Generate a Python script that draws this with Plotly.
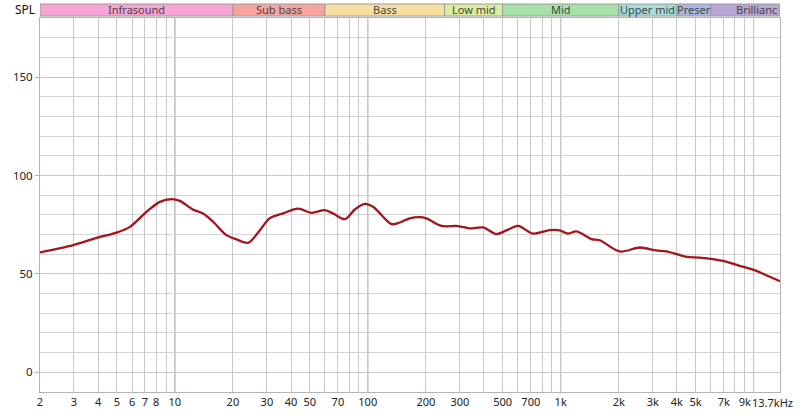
import numpy as np
import plotly.graph_objects as go

# ---- data ----
freq_hz = [2.0, 2.97, 3.93, 4.99, 5.85, 7.13, 8.36, 9.6, 10.6, 12.4, 14.0, 15.8, 18.5,
           20.9, 24.0, 27.6, 31.0, 36.4, 43.5, 51.1, 59.8, 66.1, 76.0, 85.7, 96.4,
           106.5, 132.6, 146.6, 165, 186, 201, 241, 294, 337, 396, 464, 523, 601,
           718, 877, 988, 1091, 1206, 1442, 1593, 2022, 2568, 3132, 3530, 4478,
           5250, 6935, 8460, 10100, 11630, 13700]
spl_db = [60.9, 64.6, 68.3, 71.0, 73.9, 81.5, 86.6, 88.0, 87.1, 82.7, 80.7, 76.5, 69.7,
          67.5, 65.8, 72.2, 78.2, 80.7, 83.2, 81.0, 82.4, 80.7, 77.8, 82.7, 85.6,
          84.1, 75.3, 76.1, 78.2, 78.8, 78.2, 74.4, 74.3, 73.1, 73.6, 70.2, 72.1, 74.4,
          70.5, 72.2, 72.1, 70.5, 71.6, 67.7, 67.1, 61.4, 63.4, 61.9, 61.5, 58.7,
          58.3, 56.6, 54.1, 51.9, 49.3, 46.3]

band_names = ["Infrasound", "Sub bass", "Bass", "Low mid", "Mid", "Upper mid", "Preser", "Brillianc"]
band_edges = [2, 20, 60, 250, 500, 2000, 4000, 6000, 13700]
band_colors = ["#f8a4d4", "#f7a4a0", "#f9e0a0", "#dcedA0", "#a8e2a8", "#a8dcd8", "#a8b8e4", "#b8a6d4"]

x_tick_vals = [2, 3, 4, 5, 6, 7, 8, 9, 10, 20, 30, 40, 50, 60, 70, 80, 90, 100,
               200, 300, 400, 500, 600, 700, 800, 900, 1000,
               2000, 3000, 4000, 5000, 6000, 7000, 8000, 9000, 10000]
x_tick_text = ["2", "3", "4", "5", "6", "7", "8", "", "10", "20", "30", "40", "50", "", "70", "", "", "100",
               "200", "300", "", "500", "", "700", "", "", "1k",
               "2k", "3k", "4k", "5k", "", "7k", "", "9k", ""]
decades = [10, 100, 1000, 10000]
x_min, x_max = 2, 13700
x_end_label = "13.7kHz"
y_tick_vals = [0, 50, 100, 150]
y_min, y_max = -10, 180

FONT = "Noto Sans"
FS = 11

fig = go.Figure()
fig.add_trace(go.Scatter(
    x=freq_hz, y=spl_db, mode="lines",
    line=dict(color="#a3141c", width=2.3, shape="spline", smoothing=0.9),
    hoverinfo="skip", showlegend=False,
))

shapes = []
for d in decades:
    shapes.append(dict(type="line", xref="x", yref="paper", x0=d, x1=d, y0=0, y1=1,
                       line=dict(color="#7a7a7a", width=1), layer="below"))
for lo, hi, c in zip(band_edges[:-1], band_edges[1:], band_colors):
    shapes.append(dict(type="rect", xref="x", yref="paper", x0=lo, x1=hi,
                       y0=1.0053, y1=1.0374, fillcolor=c,
                       line=dict(color="#9a9a9a", width=1), layer="above"))

annotations = []
for i, (name, lo, hi) in enumerate(zip(band_names, band_edges[:-1], band_edges[1:])):
    if i == len(band_names) - 1:
        annotations.append(dict(x=np.log10(hi), y=1.0215, xref="x", yref="paper",
                                text=name, showarrow=False, xanchor="right", yanchor="middle",
                                xshift=-1, font=dict(family=FONT, size=11, color="#444444")))
    else:
        annotations.append(dict(x=np.log10(np.sqrt(lo * hi)), y=1.0215, xref="x", yref="paper",
                                text=name, showarrow=False, xanchor="center", yanchor="middle",
                                font=dict(family=FONT, size=11, color="#444444")))
annotations.append(dict(x=0, y=1.0215, xref="paper", yref="paper", text="SPL",
                        showarrow=False, xanchor="right", yanchor="middle", xshift=-3,
                        font=dict(family=FONT, size=12, color="#111111")))
annotations.append(dict(x=1, y=0, xref="paper", yref="paper", text=x_end_label,
                        showarrow=False, xanchor="right", yanchor="top", xshift=15, yshift=-1,
                        font=dict(family=FONT, size=FS, color="#222222")))

fig.update_layout(
    width=800, height=417,
    margin=dict(l=40, r=20, t=18, b=25, autoexpand=False),
    paper_bgcolor="white", plot_bgcolor="white",
    font=dict(family=FONT, size=FS, color="#222222"),
    shapes=shapes, annotations=annotations,
    xaxis=dict(type="log", range=[np.log10(x_min), np.log10(x_max)],
               tickvals=x_tick_vals, ticktext=x_tick_text, ticks="", automargin=False,
               showgrid=True, gridcolor="#c8c8c8", gridwidth=1,
               showline=True, linecolor="#b4b4b4", mirror=True, zeroline=False,
               tickfont=dict(family=FONT, size=FS, color="#222222")),
    yaxis=dict(range=[y_min, y_max], tickvals=y_tick_vals, ticks="outside", ticklen=4,
               automargin=False,
               tickcolor="#b4b4b4", showgrid=True, gridcolor="#c8c8c8",
               minor=dict(dtick=10, showgrid=True, gridcolor="#d4d4d4"),
               showline=True, linecolor="#b4b4b4", mirror=True, zeroline=False,
               tickfont=dict(family=FONT, size=11.5, color="#222222")),
)

fig.write_html("out.html", config={"displayModeBar": False},
               post_script="document.body.style.margin='0';document.body.style.overflow='hidden';")
